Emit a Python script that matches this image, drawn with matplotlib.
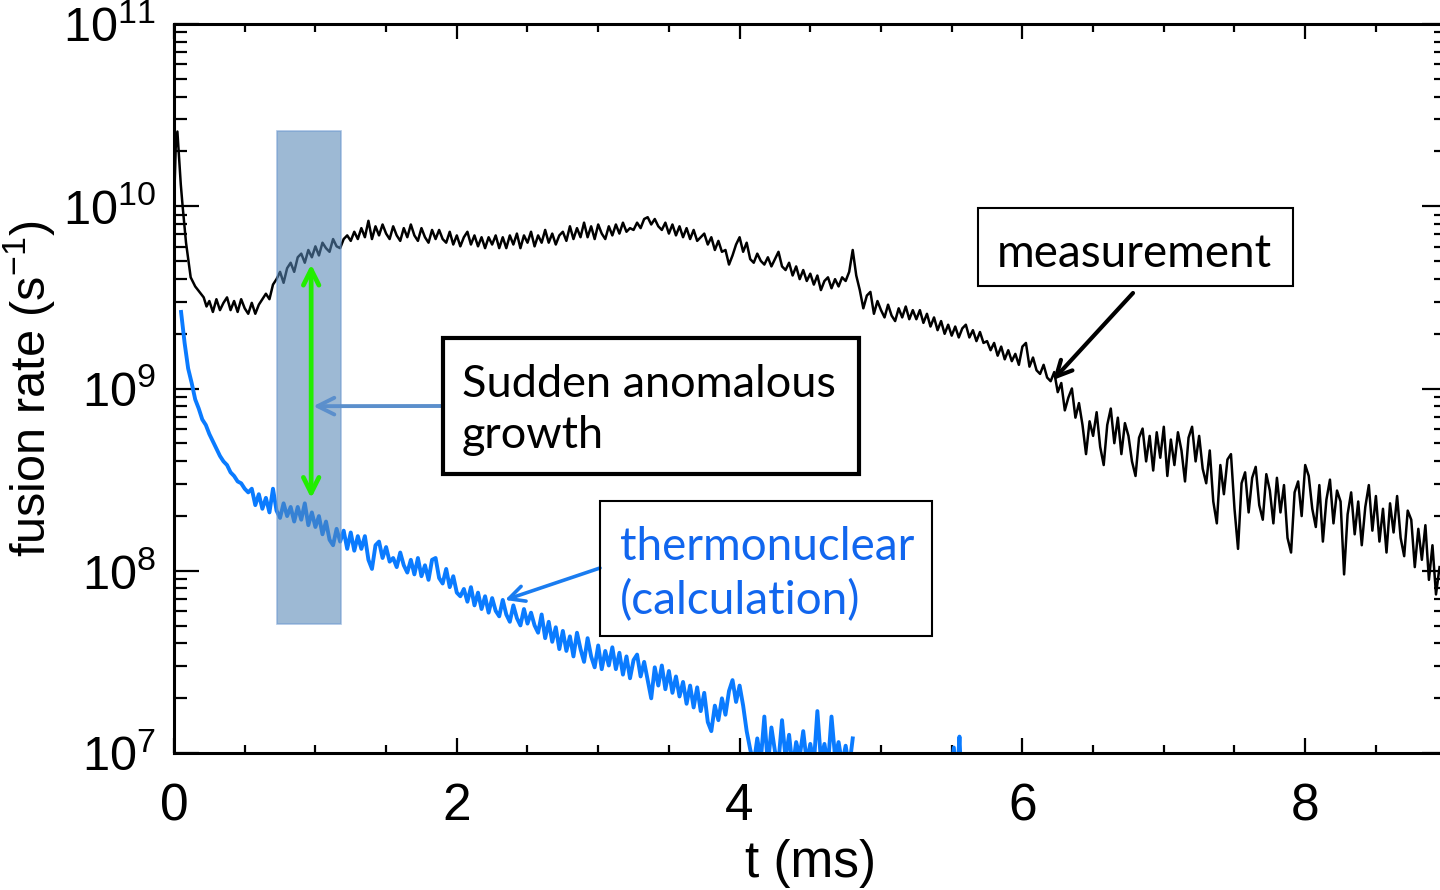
import numpy as np
import matplotlib.pyplot as plt
from matplotlib.patches import Rectangle
from matplotlib.ticker import LogLocator, MultipleLocator, FuncFormatter, NullFormatter

plt.rcParams['font.family'] = ['Liberation Sans', 'DejaVu Sans']
plt.rcParams['mathtext.fontset'] = 'custom'
plt.rcParams['mathtext.rm'] = 'Liberation Sans'

W, H = 1440, 890

# measured fusion rate, log10(s^-1); fine sampling over the initial spike
meas_head_t = [0.0, 0.012, 0.024, 0.035, 0.048, 0.061, 0.085, 0.118, 0.15, 0.18, 0.21, 0.23]
meas_head_log = [10.0, 10.32, 10.41, 10.28, 10.12, 10.0, 9.80, 9.61, 9.56, 9.53, 9.50, 9.45]

# measured fusion rate, log10, every 0.025 ms from 0.25 ms to 8.95 ms
meas_log = [
    9.48, 9.42, 9.49, 9.43, 9.47, 9.50, 9.43, 9.48, 9.42, 9.49, 9.44, 9.41, 9.47, 9.41, 9.46, 9.49, 9.52, 9.49, 9.57, 9.60,
    9.64, 9.58, 9.66, 9.69, 9.64, 9.72, 9.74, 9.69, 9.76, 9.72, 9.78, 9.73, 9.80, 9.77, 9.75, 9.82, 9.78, 9.77, 9.82, 9.84,
    9.81, 9.86, 9.82, 9.88, 9.83, 9.92, 9.82, 9.89, 9.84, 9.90, 9.85, 9.82, 9.89, 9.84, 9.81, 9.88, 9.83, 9.90, 9.84, 9.81,
    9.88, 9.83, 9.80, 9.87, 9.82, 9.87, 9.82, 9.80, 9.86, 9.79, 9.84, 9.78, 9.83, 9.86, 9.79, 9.84, 9.78, 9.83, 9.77, 9.83,
    9.79, 9.84, 9.77, 9.83, 9.77, 9.84, 9.79, 9.85, 9.77, 9.84, 9.80, 9.86, 9.78, 9.84, 9.80, 9.87, 9.80, 9.85, 9.79, 9.84,
    9.86, 9.81, 9.89, 9.82, 9.88, 9.83, 9.91, 9.83, 9.89, 9.82, 9.90, 9.85, 9.82, 9.89, 9.84, 9.90, 9.85, 9.91, 9.86, 9.88,
    9.87, 9.91, 9.88, 9.93, 9.94, 9.90, 9.93, 9.89, 9.87, 9.91, 9.85, 9.90, 9.84, 9.89, 9.83, 9.88, 9.82, 9.87, 9.81, 9.83,
    9.85, 9.79, 9.83, 9.76, 9.81, 9.75, 9.76, 9.68, 9.73, 9.79, 9.83, 9.75, 9.80, 9.71, 9.69, 9.74, 9.70, 9.68, 9.72, 9.67,
    9.71, 9.75, 9.67, 9.65, 9.69, 9.62, 9.67, 9.60, 9.65, 9.59, 9.63, 9.57, 9.62, 9.54, 9.59, 9.61, 9.55, 9.60, 9.56, 9.61,
    9.59, 9.64, 9.76, 9.62, 9.54, 9.44, 9.51, 9.53, 9.41, 9.48, 9.43, 9.39, 9.46, 9.40, 9.37, 9.44, 9.39, 9.45, 9.38, 9.43,
    9.38, 9.43, 9.36, 9.41, 9.34, 9.39, 9.32, 9.37, 9.30, 9.35, 9.29, 9.34, 9.28, 9.33, 9.35, 9.28, 9.32, 9.26, 9.31, 9.25,
    9.26, 9.21, 9.25, 9.18, 9.23, 9.16, 9.21, 9.15, 9.19, 9.13, 9.23, 9.25, 9.12, 9.17, 9.10, 9.08, 9.13, 9.06, 9.04, 9.09,
    8.98, 9.03, 8.88, 8.95, 9.00, 8.84, 8.92, 8.80, 8.64, 8.82, 8.74, 8.87, 8.68, 8.58, 8.80, 8.89, 8.70, 8.84, 8.64, 8.81,
    8.74, 8.60, 8.52, 8.73, 8.78, 8.60, 8.74, 8.55, 8.76, 8.62, 8.79, 8.52, 8.72, 8.58, 8.76, 8.66, 8.49, 8.73, 8.79, 8.60,
    8.74, 8.56, 8.48, 8.66, 8.38, 8.26, 8.58, 8.42, 8.61, 8.64, 8.34, 8.12, 8.48, 8.54, 8.32, 8.51, 8.57, 8.36, 8.28, 8.53,
    8.44, 8.26, 8.51, 8.32, 8.47, 8.18, 8.10, 8.43, 8.49, 8.30, 8.58, 8.52, 8.34, 8.24, 8.47, 8.16, 8.39, 8.50, 8.26, 8.44,
    8.38, 7.98, 8.31, 8.43, 8.20, 8.38, 8.14, 8.35, 8.47, 8.22, 8.41, 8.16, 8.34, 8.10, 8.37, 8.21, 8.41, 8.18, 8.08, 8.33,
    8.28, 8.02, 8.23, 8.06, 8.25, 7.95, 8.14, 7.87, 8.02,
]

# thermonuclear calculation, log10, every 0.025 ms from 0.05 ms to 4.8 ms
thermo_log = [
    9.42, 9.25, 9.11, 9.03, 8.94, 8.89, 8.83, 8.80, 8.75, 8.71, 8.67, 8.63, 8.60, 8.58, 8.54, 8.52, 8.49, 8.48, 8.45, 8.43,
    8.45, 8.36, 8.42, 8.34, 8.40, 8.32, 8.45, 8.33, 8.29, 8.37, 8.30, 8.35, 8.27, 8.35, 8.28, 8.37, 8.25, 8.32, 8.24, 8.30,
    8.20, 8.27, 8.17, 8.14, 8.23, 8.16, 8.22, 8.12, 8.21, 8.11, 8.19, 8.12, 8.19, 8.06, 8.01, 8.14, 8.16, 8.07, 8.13, 8.05,
    8.07, 8.02, 8.10, 8.03, 7.99, 8.06, 7.98, 8.07, 7.97, 8.03, 7.95, 8.06, 8.07, 7.96, 7.93, 8.01, 7.91, 7.97, 7.88, 7.86,
    7.90, 7.83, 7.91, 7.81, 7.88, 7.79, 7.86, 7.77, 7.85, 7.78, 7.75, 7.84, 7.76, 7.72, 7.81, 7.74, 7.70, 7.79, 7.71, 7.77,
    7.70, 7.66, 7.76, 7.63, 7.72, 7.61, 7.69, 7.57, 7.67, 7.56, 7.64, 7.53, 7.66, 7.57, 7.50, 7.63, 7.53, 7.47, 7.59, 7.46,
    7.56, 7.48, 7.58, 7.46, 7.55, 7.43, 7.53, 7.41, 7.51, 7.54, 7.42, 7.50, 7.40, 7.30, 7.47, 7.37, 7.48, 7.35, 7.45, 7.33,
    7.42, 7.31, 7.39, 7.27, 7.37, 7.25, 7.36, 7.23, 7.33, 7.17, 7.12, 7.26, 7.18, 7.30, 7.21, 7.34, 7.40, 7.28, 7.37, 7.26,
    7.12, 7.02, 6.94, 7.08, 6.96, 7.20, 6.93, 7.14, 7.01, 6.95, 7.18, 6.97, 7.10, 6.92, 7.06, 6.98, 7.12, 6.95, 7.05, 6.94,
    7.23, 6.96, 7.05, 6.93, 7.20, 6.98, 7.06, 6.94, 7.04, 6.92, 7.08,
]
# isolated counts later on (nan breaks the line)
thermo_tail_t = [4.82, 5.50, 5.515, 5.53, 5.545, 5.555, 5.565]
thermo_tail_log = [np.nan, 6.9, 7.03, 6.9, 6.95, 7.09, 6.9]

t_meas = np.concatenate([meas_head_t, np.linspace(0.25, 8.95, len(meas_log))])
r_meas = 10.0 ** np.concatenate([meas_head_log, meas_log])
t_th = np.concatenate([np.linspace(0.05, 4.8, len(thermo_log)), thermo_tail_t])
r_th = 10.0 ** np.concatenate([thermo_log, thermo_tail_log])

fig = plt.figure(figsize=(W / 100, H / 100), dpi=100)
ax = fig.add_axes([174 / W, 137 / H, 1272.6 / W, 729 / H])

ax.plot(t_meas, r_meas, color='black', lw=1.8, zorder=2)
ax.plot(t_th, r_th, color='#0a7bff', lw=2.8, zorder=2)

ax.set_yscale('log')
ax.set_xlim(0, 9)
ax.set_ylim(1e7, 1e11)

ax.xaxis.set_major_locator(MultipleLocator(2))
ax.xaxis.set_minor_locator(MultipleLocator(0.5))
ax.yaxis.set_major_locator(LogLocator(base=10, numticks=10))
ax.yaxis.set_minor_locator(LogLocator(base=10, subs=np.arange(2, 10), numticks=20))
ax.yaxis.set_major_formatter(FuncFormatter(lambda v, p: r'$\mathregular{10^{%d}}$' % round(np.log10(v))))
ax.yaxis.set_minor_formatter(NullFormatter())

ax.tick_params(which='both', direction='in', top=True, right=True, width=1.6, colors='black')
ax.tick_params(axis='x', which='major', length=11, labelsize=37, pad=21)
ax.tick_params(axis='x', which='minor', length=5.5)
ax.tick_params(axis='y', which='major', length=18, labelsize=35, pad=13)
ax.tick_params(axis='y', which='minor', length=9.5)
for s in ax.spines.values():
    s.set_linewidth(2.2)

ax.set_xlabel('t (ms)', fontsize=37, labelpad=6)
ax.set_ylabel('fusion rate (s$^{\\mathregular{-1}}$)', fontsize=35)
ax.yaxis.set_label_coords(-0.092, 0.5)

# shaded window around the onset of the growth
ax.add_patch(Rectangle((0.73, 5.1e7), 0.45, 2.6e10 - 5.1e7, facecolor='#5787b6',
                       edgecolor='#6d9ad0', lw=1.2, alpha=0.58, zorder=3))

ax.annotate('', xy=(0.97, 4.8e9), xytext=(0.97, 2.5e8),
            arrowprops=dict(arrowstyle='<->', color='#22ee00', lw=3.4, mutation_scale=28,
                            shrinkA=0, shrinkB=0), zorder=4)


def fxy(px, py):
    return px / W, 1 - py / H


def box(x0, y0, x1, y1, lw):
    fig.add_artist(Rectangle(fxy(x0, y1), (x1 - x0) / W, (y1 - y0) / H, transform=fig.transFigure,
                             fill=False, edgecolor='black', lw=lw, zorder=5))


txt_font = ['Lato', 'DejaVu Sans']

box(443, 338, 859, 474, 3.0)
fig.text(*fxy(462, 410), 'Sudden anomalous\ngrowth', fontsize=32.5, family=txt_font,
         va='center', ha='left', linespacing=1.3)
ax.annotate('', xy=(0.985, 8.0e8), xycoords='data', xytext=fxy(443, 406),
            textcoords='figure fraction',
            arrowprops=dict(arrowstyle='->', color='#5b8fcc', lw=2.8, mutation_scale=30,
                            shrinkA=0, shrinkB=0))

box(978, 208, 1293, 286, 1.5)
fig.text(*fxy(1134, 254), 'measurement', fontsize=33, family=txt_font, ha='center', va='center')
ax.annotate('', xy=fxy(1053, 380), xycoords='figure fraction', xytext=fxy(1133, 293),
            textcoords='figure fraction',
            arrowprops=dict(arrowstyle='->', color='black', lw=3.0, mutation_scale=28,
                            shrinkA=0, shrinkB=0))

box(600, 501, 932, 636, 1.5)
fig.text(*fxy(620, 574), 'thermonuclear\n(calculation)', fontsize=33, family=txt_font,
         color='#1166ee', ha='left', va='center', linespacing=1.3)
ax.annotate('', xy=fxy(505, 600), xycoords='figure fraction', xytext=fxy(600, 568),
            textcoords='figure fraction',
            arrowprops=dict(arrowstyle='->', color='#1a7cf0', lw=2.6, mutation_scale=28,
                            shrinkA=0, shrinkB=0))

fig.savefig('out.png', dpi=100)
